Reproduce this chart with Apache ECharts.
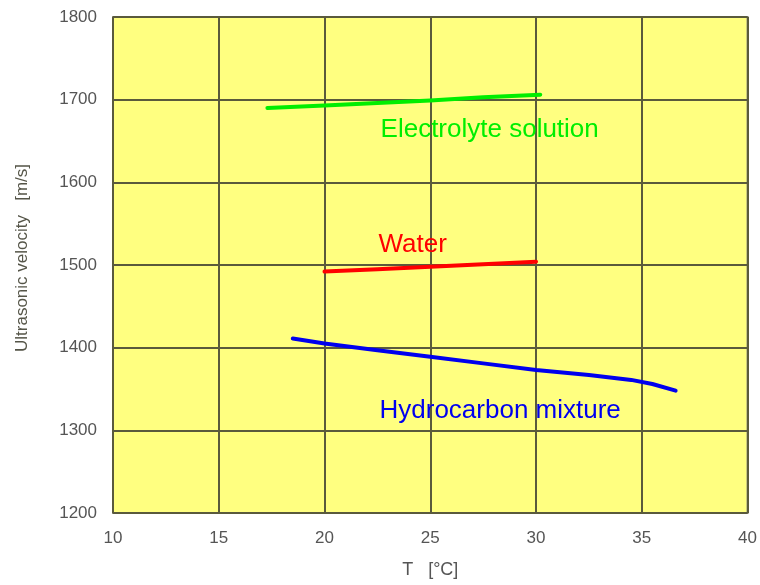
<!DOCTYPE html>
<html>
<head>
<meta charset="utf-8">
<script src="https://cdn.jsdelivr.net/npm/echarts@6/dist/echarts.min.js"></script>
<style>
  html, body { margin: 0; padding: 0; background: #ffffff; }
  #chart { width: 760px; height: 585px; }
</style>
</head>
<body>
<div id="chart"></div>
<script>
// Ultrasonic velocity vs temperature for three liquids: [T in °C, velocity in m/s]
const electrolyte = [[17.3, 1690], [20, 1693], [22.5, 1696], [25, 1699], [27.5, 1703], [30.2, 1706]];
const water = [[20, 1492], [22.5, 1495], [25, 1498], [27.5, 1501], [30, 1504]];
const hydrocarbon = [[18.5, 1411], [20, 1405], [22.5, 1397], [25, 1389], [27.5, 1381], [30, 1373], [32.5, 1367], [34.5, 1361], [35.5, 1356], [36.6, 1348]];

// Series names and where each name is written (data coordinates of the label's left edge)
const seriesNames = ['Electrolyte solution', 'Water', 'Hydrocarbon mixture'];
const labelAnchors = [[22.65, 1663], [22.55, 1524], [22.6, 1323]];
const seriesColors = ['#00ee00', '#ff0000', '#0000ee'];

const xTicks = { min: 10, max: 40, interval: 5 };
const yTicks = { min: 1200, max: 1800, interval: 100 };

const FONT = 'Liberation Sans, Arial, sans-serif';

const chart = echarts.init(document.getElementById('chart'), null, { renderer: 'canvas' });

const allData = [electrolyte, water, hydrocarbon];

const series = allData.map((d, i) => ({
  name: seriesNames[i],
  type: 'line',
  data: d,
  showSymbol: false,
  symbol: 'none',
  smooth: false,
  lineStyle: { color: seriesColors[i], width: 4, cap: 'round', join: 'round' },
  itemStyle: { color: seriesColors[i] },
  markPoint: {
    symbol: 'circle',
    symbolSize: 0,
    data: [{ coord: labelAnchors[i], value: seriesNames[i] }],
    label: {
      show: true,
      position: 'right',
      distance: 0,
      formatter: seriesNames[i],
      color: seriesColors[i],
      fontFamily: FONT,
      fontSize: 26
    }
  }
}));

chart.setOption({
  animation: false,
  backgroundColor: '#ffffff',
  grid: {
    left: 113, top: 17, width: 636, height: 496,
    show: true,
    backgroundColor: '#ffff80',
    borderColor: '#8a8a80',
    borderWidth: 2
  },
  xAxis: {
    type: 'value',
    min: xTicks.min, max: xTicks.max, interval: xTicks.interval,
    name: 'T   [°C]',
    nameLocation: 'middle',
    nameGap: 48,
    nameTextStyle: { color: '#555555', fontSize: 18, fontFamily: FONT },
    axisLine: { show: false },
    axisTick: { show: false },
    axisLabel: { color: '#555555', fontSize: 17, margin: 17, fontFamily: FONT, formatter: v => String(v) },
    splitLine: { show: true, lineStyle: { color: '#5a5a3c', width: 2 } }
  },
  yAxis: {
    type: 'value',
    min: yTicks.min, max: yTicks.max, interval: yTicks.interval,
    name: 'Ultrasonic velocity   [m/s]',
    nameLocation: 'middle',
    nameRotate: 90,
    nameGap: 82,
    nameTextStyle: { color: '#555548', fontSize: 17, fontFamily: FONT, padding: [0, 0, 0, 14] },
    axisLine: { show: false },
    axisTick: { show: false },
    axisLabel: { color: '#555555', fontSize: 17, margin: 16, fontFamily: FONT, formatter: v => String(v) },
    splitLine: { show: true, lineStyle: { color: '#5a5a3c', width: 2 } }
  },
  series: series
});
</script>
</body>
</html>
